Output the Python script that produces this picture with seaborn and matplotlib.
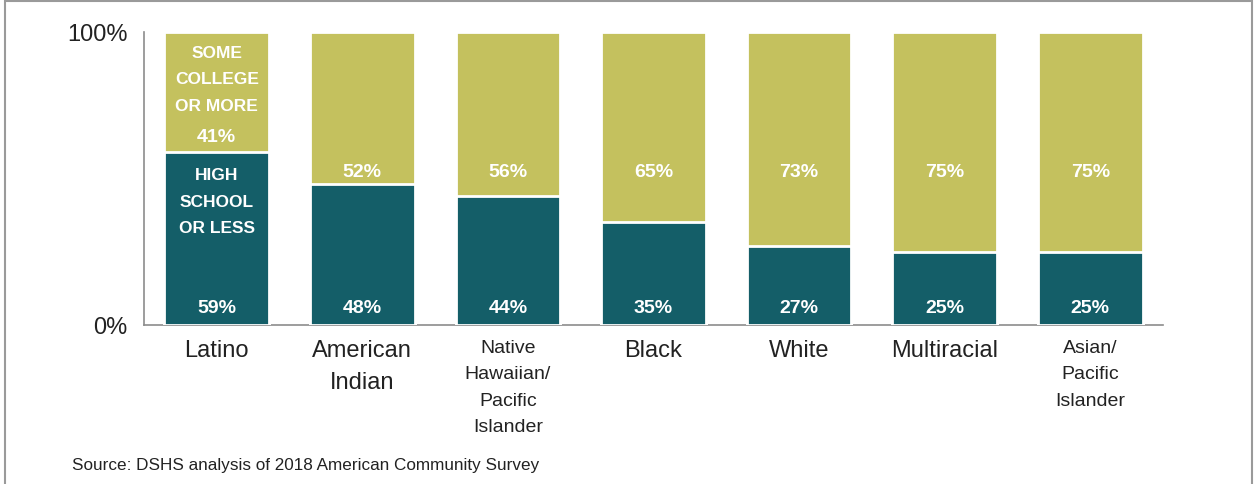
import matplotlib
matplotlib.use("Agg")
import matplotlib.pyplot as plt
from matplotlib.patches import Rectangle
from matplotlib import font_manager
import seaborn as sns
import pandas as pd

# Educational attainment by race/ethnicity
groups = ["Latino", "American\nIndian", "Native\nHawaiian/\nPacific\nIslander",
          "Black", "White", "Multiracial", "Asian/\nPacific\nIslander"]
high_school_or_less = [59, 48, 44, 35, 27, 25, 25]
some_college_or_more = [41, 52, 56, 65, 73, 75, 75]
small_label_groups = ["Native\nHawaiian/\nPacific\nIslander", "Asian/\nPacific\nIslander"]

TEAL = "#145E68"
OLIVE = "#C4C15E"
GRAY = "#8C8C8C"

sns.set_theme(style="white")
available = {f.name for f in font_manager.fontManager.ttflist}
narrow = "Liberation Sans Narrow" if "Liberation Sans Narrow" in available else "Liberation Sans"
plt.rcParams["font.family"] = [narrow, "DejaVu Sans"]

df = pd.DataFrame({
    "group": groups,
    "hs": high_school_or_less,
    "college": some_college_or_more,
})
df["total"] = df["hs"] + df["college"]

fig = plt.figure(figsize=(12.54, 4.85), dpi=100)
ax = fig.add_axes([144 / 1254, 159 / 485, (1163 - 144) / 1254, (326 - 33) / 485])

sns.barplot(data=df, x="group", y="total", color=OLIVE, saturation=1,
            width=0.72, edgecolor="white", linewidth=2, ax=ax)
sns.barplot(data=df, x="group", y="hs", color=TEAL, saturation=1,
            width=0.72, edgecolor="white", linewidth=2, ax=ax)

ax.set_xlim(-0.5, len(groups) - 0.5)
ax.set_ylim(0, 100)
ax.set_yticks([0, 100])
ax.set_yticklabels(["0%", "100%"], fontsize=17, color="#222222")
ax.tick_params(axis="y", length=0, pad=12)
ax.tick_params(axis="x", length=0, pad=10)
ax.set_xlabel("")
ax.set_ylabel("")

ax.set_xticks(range(len(groups)))
ax.set_xticklabels(groups, color="#222222")
for lbl in ax.get_xticklabels():
    if lbl.get_text() in small_label_groups:
        lbl.set_fontsize(14)
        lbl.set_linespacing(1.72)
    else:
        lbl.set_fontsize(17)
        lbl.set_linespacing(1.6)

for side in ["top", "right"]:
    ax.spines[side].set_visible(False)
for side in ["left", "bottom"]:
    ax.spines[side].set_color(GRAY)
    ax.spines[side].set_linewidth(1.2)
ax.spines["bottom"].set_zorder(0)

# Value labels
for i, (hs, col) in enumerate(zip(high_school_or_less, some_college_or_more)):
    ax.text(i, 6, f"{hs}%", ha="center", va="center", color="white",
            fontsize=14, fontweight="bold")
    y_col = hs + 5.5 if i == 0 else 52.5
    ax.text(i, y_col, f"{col}%", ha="center", va="center", color="white",
            fontsize=14, fontweight="bold")

# Segment names inside the first bar
ax.text(0, 84, "SOME\nCOLLEGE\nOR MORE", ha="center", va="center", color="white",
        fontsize=12.5, fontweight="bold", linespacing=1.95)
ax.text(0, 42.3, "HIGH\nSCHOOL\nOR LESS", ha="center", va="center", color="white",
        fontsize=12.5, fontweight="bold", linespacing=1.95)

fig.text(72 / 1254, 1 - 466 / 485, "Source: DSHS analysis of 2018 American Community Survey",
         ha="left", va="center", fontsize=12.3, color="#222222")

# Frame around the figure
fig.patches.append(Rectangle((5 / 1254, -0.05), (1252 - 5) / 1254, 1.05 - 1.5 / 485,
                             transform=fig.transFigure, fill=False,
                             edgecolor="#9A9A9A", linewidth=1.5))

fig.savefig("out.png", dpi=100, facecolor="white")
